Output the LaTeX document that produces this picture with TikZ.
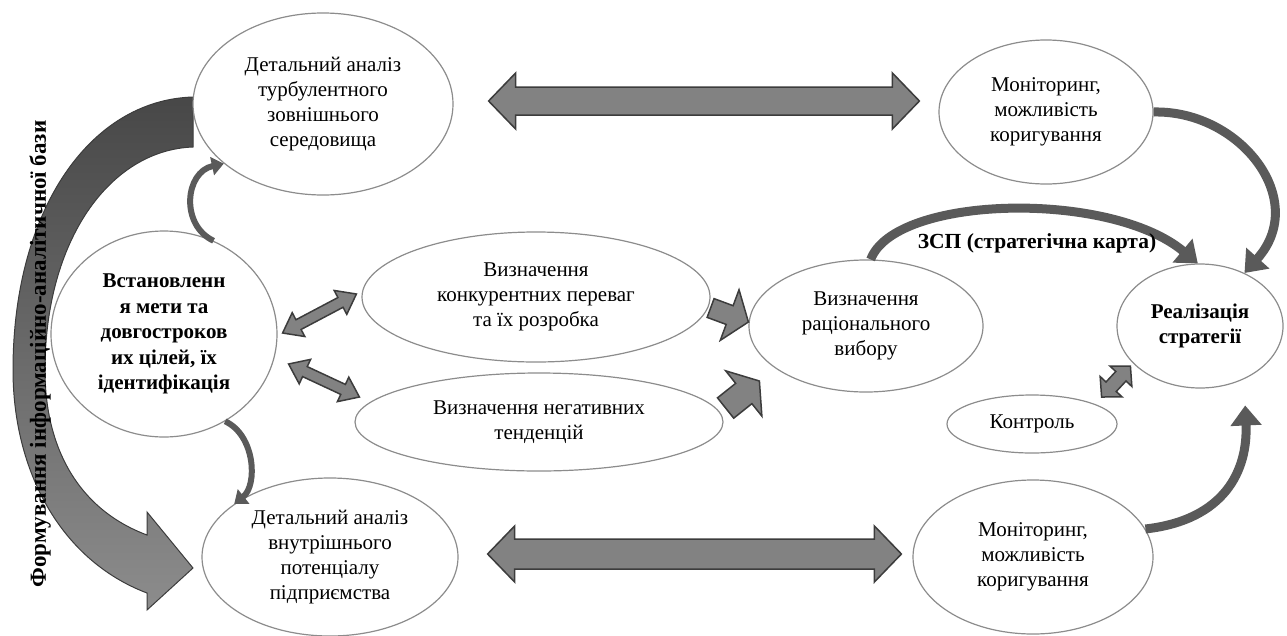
\documentclass[tikz,border=0pt]{standalone}
\usepackage{fontspec}
\setmainfont{Liberation Serif}
\usetikzlibrary{shapes.geometric,calc,arrows.meta}
\definecolor{ovalgray}{HTML}{8C8C8C}
\definecolor{arrfill}{HTML}{828282}
\definecolor{arrline}{HTML}{3C3C3C}
\definecolor{curvecol}{HTML}{5A5A5A}

% block arrows: from, to, shaft half width, head half width, head length
\newcommand{\dblarrow}[5]{%
  \draw[blockarr] (#1)
    -- ($(#1)!#5!(#2)!#4!90:(#2)$) -- ($(#1)!#5!(#2)!#3!90:(#2)$)
    -- ($(#2)!#5!(#1)!#3!-90:(#1)$) -- ($(#2)!#5!(#1)!#4!-90:(#1)$)
    -- (#2)
    -- ($(#2)!#5!(#1)!#4!90:(#1)$) -- ($(#2)!#5!(#1)!#3!90:(#1)$)
    -- ($(#1)!#5!(#2)!#3!-90:(#2)$) -- ($(#1)!#5!(#2)!#4!-90:(#2)$)
    -- cycle;}
\newcommand{\sglarrow}[5]{%
  \draw[blockarr] ($(#1)!#3!90:(#2)$)
    -- ($(#2)!#5!(#1)!#3!-90:(#1)$) -- ($(#2)!#5!(#1)!#4!-90:(#1)$)
    -- (#2)
    -- ($(#2)!#5!(#1)!#4!90:(#1)$) -- ($(#2)!#5!(#1)!#3!90:(#1)$)
    -- ($(#1)!#3!-90:(#2)$) -- cycle;}

\begin{document}
\begin{tikzpicture}[x=1pt,y=-1pt,
    oval/.style={ellipse, draw=ovalgray, line width=1.2pt, fill=white, align=center,
      inner sep=0pt, font=\fontsize{21}{25}\selectfont},
    boldoval/.style={oval, font=\bfseries\fontsize{21}{25.5}\selectfont},
    blockarr/.style={fill=arrfill, draw=arrline, line width=1.5pt, line join=miter},
    curvy/.style={draw=curvecol, line width=9pt, -{Triangle[length=20pt,width=30pt]}},
    smallcurvy/.style={draw=curvecol, line width=6pt, -{Triangle[length=12pt,width=18pt]}},
    bigarr/.style={top color=black!72, bottom color=black!45, draw=arrline, line width=1pt}]
  \useasboundingbox (0,0) rectangle (1287,635);

  % big arrow on the left
  \draw[bigarr] (193,97) .. controls (90,100) and (13,210) .. (13,370)
    .. controls (13,470) and (60,560) .. (147,593) -- (147,610) -- (193,568)
    -- (147,512) -- (147,535) .. controls (80,510) and (45,450) .. (45,370)
    .. controls (45,240) and (110,150) .. (193,147) -- cycle;
  \node[rotate=90, font=\bfseries\fontsize{23}{27}\selectfont] (formlbl) at (40,354)
    {Формування інформаційно-аналітичної бази};

  \node[oval, minimum width=260pt, minimum height=182pt] (ext) at (323,104)
    {Детальний аналіз\\турбулентного\\зовнішнього\\середовища};
  \node[oval, minimum width=214pt, minimum height=144pt] (mon1) at (1046,112)
    {Моніторинг,\\можливість\\коригування};
  \node[boldoval, minimum width=226pt, minimum height=206pt] (goal) at (164,334)
    {Встановленн\\я мети та\\довгостроков\\их цілей, їх\\ідентифікація};
  \node[oval, minimum width=348pt, minimum height=130pt] (adv) at (536,297)
    {Визначення\\конкурентних переваг\\та їх розробка};
  \node[oval, minimum width=368pt, minimum height=98pt] (neg) at (539,422)
    {Визначення негативних\\тенденцій};
  \node[oval, minimum width=234pt, minimum height=132pt] (rational) at (866,326)
    {Визначення\\раціонального\\вибору};
  \node[boldoval, minimum width=166pt, minimum height=124pt] (real) at (1200,326)
    {Реалізація\\стратегії};
  \node[oval, minimum width=170pt, minimum height=58pt] (ctrl) at (1032,424) {Контроль};
  \node[oval, minimum width=240pt, minimum height=154pt] (mon2) at (1033,557)
    {Моніторинг,\\можливість\\коригування};
  \node[oval, minimum width=256pt, minimum height=158pt] (int) at (330,557)
    {Детальний аналіз\\внутрішнього\\потенціалу\\підприємства};

  % ends of the block arrows
  \coordinate (topA) at ([xshift=35pt,yshift=3pt]ext.east);
  \coordinate (topB) at ([xshift=-19pt,yshift=11pt]mon1.west);
  \coordinate (botA) at ([xshift=29pt,yshift=3pt]int.east);
  \coordinate (botB) at ([xshift=-11pt,yshift=3pt]mon2.west);
  \coordinate (advA) at ([xshift=5pt,yshift=1pt]goal.east);
  \coordinate (advB) at ([xshift=-5pt,yshift=3pt]adv.west);
  \coordinate (negA) at ([xshift=11pt,yshift=-30pt]goal.east);
  \coordinate (negB) at ([xshift=5pt,yshift=25pt]neg.west);
  \coordinate (ratA) at ([yshift=-11pt]adv.east);
  \coordinate (ratB) at ([yshift=4pt]rational.west);
  \coordinate (ratC) at ([xshift=2pt,yshift=14pt]neg.east);
  \coordinate (ratD) at ([xshift=11pt,yshift=-55pt]rational.west);
  \coordinate (ctlA) at ([xshift=-16pt,yshift=27pt]ctrl.east);
  \coordinate (ctlB) at ([xshift=14pt,yshift=-40pt]real.west);
  \coordinate (realS) at ([xshift=12pt,yshift=-22pt]real.300);

  \dblarrow{topA}{topB}{14pt}{28pt}{27pt}
  \dblarrow{botA}{botB}{15pt}{28pt}{27pt}
  \dblarrow{advA}{advB}{5.5pt}{13.5pt}{18pt}
  \dblarrow{negA}{negB}{5.5pt}{13.5pt}{18pt}
  \sglarrow{ratA}{ratB}{10pt}{27pt}{20pt}
  \sglarrow{ratC}{ratD}{13pt}{29pt}{20pt}
  \dblarrow{ctlA}{ctlB}{7pt}{15pt}{14pt}

  % curved arrows
  \draw[smallcurvy] (goal.62) .. controls (180,225) and (185,172) .. (ext.211);
  \draw[smallcurvy] (goal.305) .. controls (255,435) and (258,485) .. (int.151);
  \draw[curvy] (mon1.east) .. controls (1240,110) and (1310,200) .. (real.50);
  \draw[curvy] (rational.86) .. controls (895,195) and (1110,190) .. (real.92);
  \draw[curvy] (mon2.14) .. controls (1225,520) and (1248,470) .. (realS);
  \node[font=\bfseries\fontsize{21.5}{25}\selectfont] (zsplbl) at (1037,243)
    {ЗСП (стратегічна карта)};
\end{tikzpicture}
\end{document}
